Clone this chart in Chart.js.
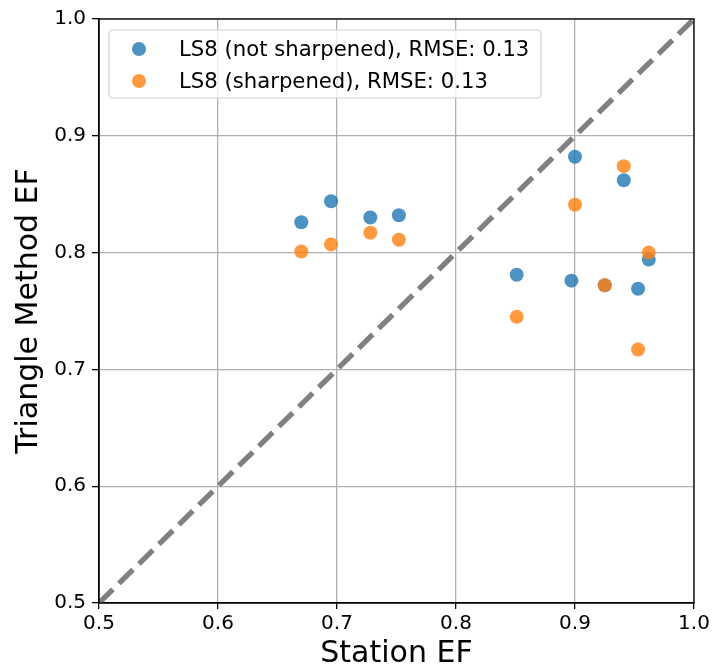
<!DOCTYPE html>
<html>
<head>
<meta charset="utf-8">
<script src="https://cdn.jsdelivr.net/npm/chart.js@4.4.1/dist/chart.umd.min.js"></script>
<style>
  html, body { margin: 0; padding: 0; background: #fff; }
  #wrap { width: 715px; height: 672px; position: relative; }
</style>
</head>
<body>
<div id="wrap"><canvas id="c"></canvas></div>
<script>
// Station EF vs Triangle Method EF (LS8)

const stationNotSharp = [0.670, 0.695, 0.728, 0.752, 0.851, 0.897, 0.900, 0.925, 0.941, 0.953, 0.962];
const triNotSharp     = [0.826, 0.844, 0.830, 0.832, 0.781, 0.776, 0.882, 0.772, 0.862, 0.769, 0.794];
const stationSharp    = [0.670, 0.695, 0.728, 0.752, 0.851, 0.900, 0.925, 0.941, 0.953, 0.962];
const triSharp        = [0.801, 0.807, 0.817, 0.811, 0.745, 0.841, 0.772, 0.874, 0.717, 0.800];
const oneToOne        = [0.5, 1.0];
const tickValues      = [0.5, 0.6, 0.7, 0.8, 0.9, 1.0];
const seriesLabels    = ['LS8 (not sharpened), RMSE: 0.13', 'LS8 (sharpened), RMSE: 0.13'];

const FONT = "'DejaVu Sans', sans-serif";
const BLUE   = 'rgba(31,119,180,0.8)';
const ORANGE = 'rgba(255,127,14,0.8)';

const toXY = (xs, ys) => xs.map((x, i) => ({ x, y: ys[i] }));

// frame round the plot area (matplotlib style box)
const frame = {
  id: 'frame',
  afterDatasetsDraw(chart) {
    const { ctx, chartArea: a } = chart;
    ctx.save();
    ctx.strokeStyle = '#000';
    ctx.lineWidth = 1.3;
    ctx.strokeRect(a.left, a.top, a.right - a.left, a.bottom - a.top);
    ctx.restore();
  },
};

// legend drawn inside the plot, upper left
const innerLegend = {
  id: 'innerLegend',
  afterDraw(chart) {
    const { ctx, chartArea: a } = chart;
    const items = chart.data.datasets.filter(d => d.inLegend);
    const x = a.left + 10, y = a.top + 11, w = 432, h = 68, r = 4;
    ctx.save();
    ctx.beginPath();
    ctx.roundRect(x, y, w, h, r);
    ctx.fillStyle = 'rgba(255,255,255,0.8)';
    ctx.fill();
    ctx.strokeStyle = '#d0d0d0';
    ctx.lineWidth = 1.2;
    ctx.stroke();
    ctx.font = '21.2px ' + FONT;
    ctx.textBaseline = 'middle';
    ctx.fillStyle = '#000';
    items.forEach((d, i) => {
      const cy = y + 19 + i * 32;
      ctx.beginPath();
      ctx.arc(x + 30, cy, 7, 0, Math.PI * 2);
      ctx.fillStyle = d.backgroundColor;
      ctx.fill();
      ctx.fillStyle = '#000';
      ctx.fillText(d.label, x + 70, cy + 1);
    });
    ctx.restore();
  },
};

const tickFont  = { family: FONT, size: 20 };
const titleFont = { family: FONT, size: 30 };

new Chart(document.getElementById('c'), {
  type: 'scatter',
  data: {
    datasets: [
      {
        label: seriesLabels[0],
        data: toXY(stationNotSharp, triNotSharp),
        backgroundColor: BLUE,
        borderWidth: 0,
        pointRadius: 7,
        order: 2,
        inLegend: true,
      },
      {
        label: seriesLabels[1],
        data: toXY(stationSharp, triSharp),
        backgroundColor: ORANGE,
        borderWidth: 0,
        pointRadius: 7,
        order: 1,
        inLegend: true,
      },
      {
        type: 'line',
        label: '1:1',
        data: toXY(oneToOne, oneToOne),
        borderColor: '#808080',
        borderWidth: 5.3,
        borderDash: [19.5, 8.5],
        pointRadius: 0,
        fill: false,
        order: 0,
      },
    ],
  },
  options: {
    responsive: true,
    maintainAspectRatio: false,
    animation: false,
    layout: { padding: { top: 19, right: 21, left: 0, bottom: 0 } },
    plugins: {
      legend:  { display: false },
      tooltip: { enabled: false },
    },
    scales: {
      x: {
        type: 'linear',
        min: 0.5,
        max: 1.0,
        afterBuildTicks: s => { s.ticks = tickValues.map(v => ({ value: v })); },
        afterFit: s => { s.height = 69; },
        ticks: {
          font: tickFont,
          color: '#000',
          padding: 3,
          maxRotation: 0,
          callback: v => v.toFixed(1),
        },
        grid: { color: '#b0b0b0', lineWidth: 1.3, tickLength: 6, tickColor: '#000', tickWidth: 1.3 },
        border: { color: '#000', width: 1.3 },
        title: { display: true, text: 'Station EF', font: titleFont, color: '#000', padding: { top: 0, bottom: 0 } },
      },
      y: {
        type: 'linear',
        min: 0.5,
        max: 1.0,
        afterBuildTicks: s => { s.ticks = tickValues.map(v => ({ value: v })); },
        afterFit: s => { s.width = 99; },
        ticks: {
          font: tickFont,
          color: '#000',
          padding: 6,
          callback: v => v.toFixed(1),
        },
        grid: { color: '#b0b0b0', lineWidth: 1.3, tickLength: 7, tickColor: '#000', tickWidth: 1.3 },
        border: { color: '#000', width: 1.3 },
        title: { display: true, text: 'Triangle Method EF', font: titleFont, color: '#000', padding: { top: 11, bottom: 0 } },
      },
    },
  },
  plugins: [frame, innerLegend],
});
</script>
</body>
</html>
